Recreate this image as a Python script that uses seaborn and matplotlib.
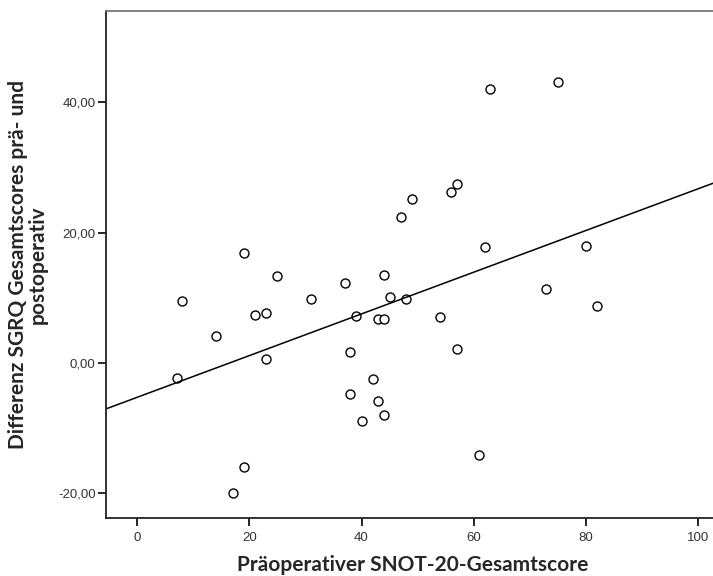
import numpy as np
import pandas as pd
import matplotlib
matplotlib.use("Agg")
import matplotlib.pyplot as plt
import seaborn as sns
from matplotlib.ticker import FuncFormatter

# Präoperativer SNOT-20-Gesamtscore
snot20 = [7, 8, 14, 17, 19, 19, 21, 23, 23, 25, 31, 37, 38, 38, 39, 40, 42, 43, 43,
          44, 44, 44, 45, 47, 48, 49, 54, 56, 57, 57, 61, 62, 63, 73, 75, 80, 82]
# Differenz SGRQ Gesamtscores prä- und postoperativ
sgrq_diff = [-2.3, 9.5, 4.1, -20.0, 16.9, -16.0, 7.4, 7.7, 0.6, 13.4, 9.8, 12.2, 1.6,
             -4.8, 7.2, -8.9, -2.5, 6.8, -5.9, 13.5, 6.7, -8.0, 10.1, 22.4, 9.8, 25.2,
             7.1, 26.2, 27.4, 2.2, -14.1, 17.8, 42.1, 11.4, 43.1, 17.9, 8.7]

x_ticks = [0, 20, 40, 60, 80, 100]
y_ticks = [-20, 0, 20, 40]

df = pd.DataFrame({"snot": snot20, "sgrq": sgrq_diff})

sns.set_style("ticks")
plt.rcParams["font.family"] = ["Liberation Sans", "DejaVu Sans"]

fig = plt.figure(figsize=(7.13, 5.76), dpi=100)
ax = fig.add_axes([106 / 713, 1 - 518 / 576, 1 - 106 / 713 + 0.01, (518 - 11) / 576])
ax.set_xlim(-5.6, 104)
ax.set_ylim(-23.8, 54)

sns.regplot(data=df, x="snot", y="sgrq", ax=ax, ci=None, truncate=False,
            scatter_kws=dict(s=42, facecolors="white", edgecolors="black", linewidths=1.0, alpha=1),
            line_kws=dict(color="black", lw=1.1))

ax.set_xticks(x_ticks)
ax.set_yticks(y_ticks)
ax.yaxis.set_major_formatter(FuncFormatter(lambda v, p: f"{v:.2f}".replace(".", ",")))
ax.tick_params(axis="both", direction="out", length=6, width=1.2, labelsize=9.5,
               colors="black", labelcolor="#333333")
ax.tick_params(axis="y", pad=1.5)
ax.tick_params(axis="x", pad=4)

for s in ["left", "bottom"]:
    ax.spines[s].set_linewidth(1.3)
    ax.spines[s].set_color("#222222")
ax.spines["top"].set_visible(True)
ax.spines["top"].set_color("#777777")
ax.spines["top"].set_linewidth(1.3)
ax.spines["right"].set_visible(False)

lab_font = ["Lato", "DejaVu Sans"]
ax.set_xlabel("Präoperativer SNOT-20-Gesamtscore", fontsize=15, fontweight="bold",
              family=lab_font, labelpad=8)
ax.set_ylabel("Differenz SGRQ Gesamtscores prä- und\npostoperativ", fontsize=15,
              fontweight="bold", family=lab_font, labelpad=7, linespacing=1.0)

fig.savefig("out.png", dpi=100)
